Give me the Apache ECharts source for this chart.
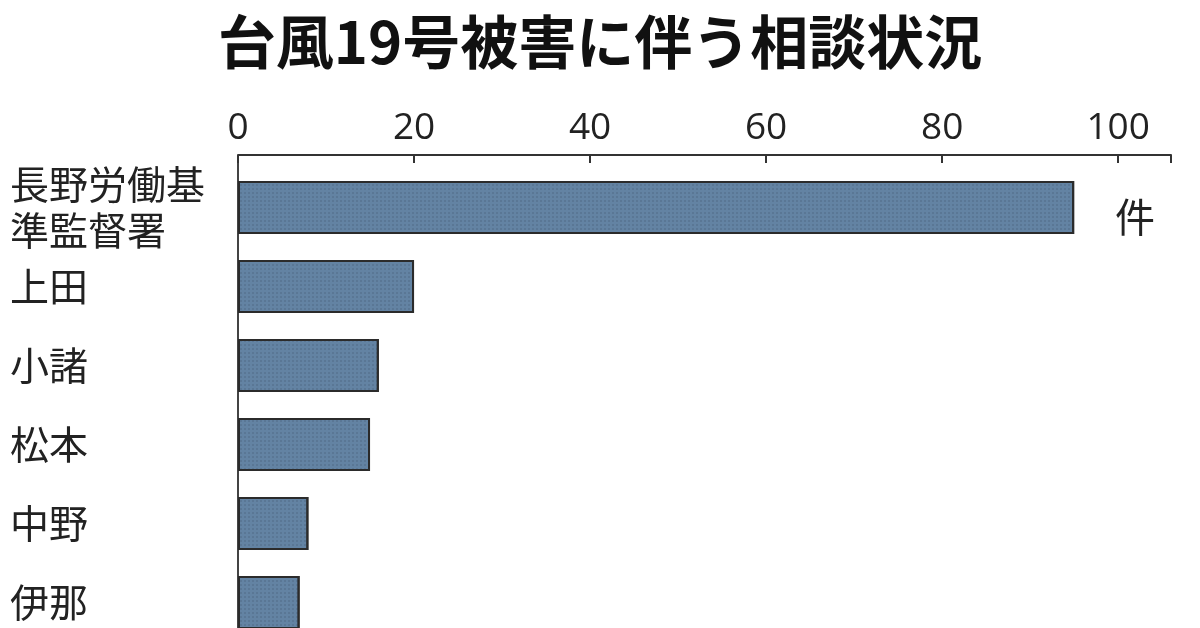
<!DOCTYPE html>
<html>
<head>
<meta charset="utf-8">
<script src="https://cdn.jsdelivr.net/npm/echarts@6/dist/echarts.min.js"></script>
<style>
  html, body { margin: 0; padding: 0; background: #fff; }
  #chart { width: 1200px; height: 628px; }
</style>
</head>
<body>
<div id="chart"></div>
<script>
const offices = ['長野労働基\n準監督署', '上田', '小諸', '松本', '中野', '伊那']
const cases = [95, 20, 16, 15, 8, 7]
const tickStep = 20

const cjk = '"Noto Sans CJK JP", "Noto Sans", sans-serif'
const chart = echarts.init(document.getElementById('chart'))

chart.setOption({
  backgroundColor: '#fff',
  animation: false,
  title: {
    text: '台風19号被害に伴う相談状況',
    left: 'center',
    top: 8,
    textStyle: { fontFamily: cjk, fontSize: 58, fontWeight: 'bold', color: '#111' }
  },
  // the last band runs past the bottom edge, as in the source image
  grid: { left: 238, top: 168, width: 933, height: 474, outerBoundsMode: 'none', containLabel: false },
  xAxis: {
    type: 'value',
    position: 'top',
    offset: 13,
    min: 0,
    max: 106,
    interval: tickStep,
    splitLine: { show: false },
    axisLine: { show: true, lineStyle: { color: '#333', width: 2 } },
    axisTick: { show: true, inside: true, length: 8, lineStyle: { color: '#333', width: 2 } },
    axisLabel: {
      margin: 8,
      fontFamily: '"Open Sans", sans-serif',
      fontSize: 37,
      color: '#222',
      formatter: v => (v % tickStep === 0 ? v : '')
    }
  },
  yAxis: {
    type: 'category',
    inverse: true,
    data: offices,
    axisLine: { show: true, lineStyle: { color: '#444', width: 2 } },
    axisTick: { show: false },
    axisLabel: {
      align: 'left',
      margin: 228,
      fontFamily: cjk,
      fontSize: 39,
      lineHeight: 46,
      color: '#222'
    }
  },
  graphic: [
    { type: 'line', shape: { x1: 238, y1: 155, x2: 238, y2: 168 }, style: { stroke: '#444', lineWidth: 2 } },
    { type: 'text', left: 1115, top: 197, style: { text: '件', font: '40px ' + cjk, fill: '#222' } }
  ],
  series: [{
    type: 'bar',
    data: cases,
    barWidth: 53,
    itemStyle: {
      color: '#6383a3',
      borderColor: '#2b2b2b',
      borderWidth: 2,
      decal: {
        symbol: 'rect',
        symbolSize: 1,
        color: 'rgba(40, 55, 75, 0.15)',
        dashArrayX: [2, 2],
        dashArrayY: [2, 2],
        rotation: 0
      }
    }
  }]
})
</script>
</body>
</html>
